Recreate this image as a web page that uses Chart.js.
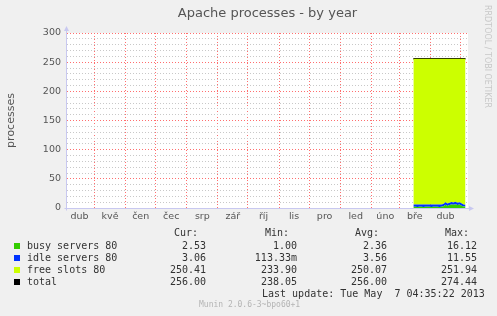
<!DOCTYPE html>
<html>
<head>
<meta charset="utf-8">
<script src="https://cdn.jsdelivr.net/npm/chart.js@4/dist/chart.umd.min.js"></script>
<style>
    body { margin: 0; background: #F0F0F0; }
    #wrap { position: relative; width: 497px; height: 316px; overflow: hidden; }
    #chart { position: absolute; left: 0; top: 0; }
    .title { position: absolute; left: 0; width: 535px; top: 5px; text-align: center; font: 13px "DejaVu Sans"; color: #555; }
    .watermark { position: absolute; left: 483px; top: 5px; writing-mode: vertical-rl; font: 8px "DejaVu Sans"; color: #C8C8C8; white-space: pre; }
    .legend { position: absolute; font: 10px "DejaVu Sans Mono"; color: #333; white-space: pre; line-height: 12px; }
    .num { text-align: right; width: 80px; }
    .swatch { position: absolute; width: 6px; height: 6px; }
    .footer { position: absolute; left: 199px; top: 300px; font: 8px "DejaVu Sans Mono"; color: #B4B4B4; white-space: pre; }
</style>
</head>
<body>
<div id="wrap">
    <canvas id="chart" width="497" height="316"></canvas>
    <div class="title">Apache processes - by year</div>
    <div class="watermark">RRDTOOL / TOBI OETIKER</div>
    <div id="legend"></div>
    <div class="footer">Munin 2.0.6-3~bpo60+1</div>
</div>
<script>
// days counted from 1 Apr 2012
const monthStarts = [30, 61, 91, 122, 153, 183, 214, 244, 275, 306, 334, 365, 395];
const monthMids = [15, 45.5, 76, 106.5, 137.5, 168, 198.5, 229, 259.5, 290.5, 320, 349.5, 380];
const monthLabels = ['dub', 'kvě', 'čen', 'čec', 'srp', 'zář', 'říj', 'lis', 'pro', 'led', 'úno', 'bře', 'dub'];
const yTickLabels = [0, 50, 100, 150, 200, 250, 300];
const yMinorStep = 10;

const days = [348, 350, 352, 354, 356, 358, 360, 362, 364, 366, 368, 370, 372, 374,
    376, 378, 380, 382, 384, 386, 388, 390, 392, 394, 396, 398, 400];
const busyServers = [2.0, 2.2, 1.9, 2.1, 2.0, 1.8, 2.1, 2.2, 2.0, 1.9, 2.1, 2.0, 2.2, 1.9,
    2.0, 3.0, 5.5, 3.5, 5.0, 6.0, 5.5, 6.5, 5.0, 6.0, 4.0, 2.5, 2.5];
const idleServers = [4.0, 3.8, 4.1, 3.9, 4.0, 4.2, 3.9, 3.8, 4.0, 4.1, 3.9, 4.0, 3.8, 4.1,
    4.0, 4.0, 4.5, 4.2, 4.0, 4.3, 4.1, 4.4, 4.2, 4.0, 4.2, 3.5, 3.1];
const freeSlots = [250.0, 250.0, 250.0, 250.0, 250.0, 250.0, 250.0, 250.0, 250.0, 250.0, 250.0, 250.0, 250.0, 250.0,
    250.0, 249.0, 246.0, 248.3, 247.0, 245.7, 246.4, 245.1, 246.8, 246.0, 247.8, 250.0, 250.4];
const totalProcs = [256, 256, 256, 256, 256, 256, 256, 256, 256, 256, 256, 256, 256, 256,
    256, 256, 256, 256, 256, 256, 256, 256, 256, 256, 256, 256, 256];

const seriesNames = ['busy servers 80', 'idle servers 80', 'free slots 80', 'total'];
const seriesColors = ['#33CC00', '#0033FF', '#CCFF00', '#000000'];
const curValues = ['2.53', '3.06', '250.41', '256.00'];
const minValues = ['1.00', '113.33m', '233.90', '238.05'];
const avgValues = ['2.36', '3.56', '250.07', '256.00'];
const maxValues = ['16.12', '11.55', '251.94', '274.44'];

const majorGrid = 'rgb(255,110,110)';
const minorGrid = 'rgb(200,200,200)';

function points(values) {
    return days.map((d, i) => ({ x: d, y: values[i] }));
}

// white canvas behind the plot, lavender axes with arrows on top
const plotDecor = {
    id: 'plotDecor',
    beforeDraw(chart) {
        const { ctx, chartArea: a } = chart;
        ctx.save();
        ctx.fillStyle = '#FFFFFF';
        ctx.fillRect(a.left, a.top, a.right - a.left, a.bottom - a.top);
        ctx.restore();
    },
    afterDraw(chart) {
        const { ctx, chartArea: a } = chart;
        const x0 = Math.round(a.left) - 0.5;
        const y0 = Math.round(a.bottom) + 0.5;
        ctx.save();
        ctx.strokeStyle = '#C8C8F0';
        ctx.fillStyle = '#C8C8F0';
        ctx.lineWidth = 1;
        ctx.beginPath();
        ctx.moveTo(x0, y0 + 2);
        ctx.lineTo(x0, a.top - 4);
        ctx.moveTo(x0 - 2, y0);
        ctx.lineTo(a.right + 3, y0);
        ctx.stroke();
        ctx.beginPath();
        ctx.moveTo(x0 - 2.5, a.top - 2);
        ctx.lineTo(x0 + 2.5, a.top - 2);
        ctx.lineTo(x0, a.top - 7);
        ctx.closePath();
        ctx.fill();
        ctx.beginPath();
        ctx.moveTo(a.right + 1, y0 - 2.5);
        ctx.lineTo(a.right + 1, y0 + 2.5);
        ctx.lineTo(a.right + 6, y0);
        ctx.closePath();
        ctx.fill();
        ctx.restore();
    }
};

function buildChart() {
    const ctx = document.getElementById('chart').getContext('2d');

    new Chart(ctx, {
        type: 'line',
        data: {
            datasets: [{
                label: seriesNames[0],
                data: points(busyServers),
                backgroundColor: seriesColors[0],
                borderWidth: 0,
                fill: 'origin',
                stack: 'procs'
            }, {
                label: seriesNames[1],
                data: points(idleServers),
                backgroundColor: seriesColors[1],
                borderWidth: 0,
                fill: '-1',
                stack: 'procs'
            }, {
                label: seriesNames[2],
                data: points(freeSlots),
                backgroundColor: seriesColors[2],
                borderWidth: 0,
                fill: '-1',
                stack: 'procs'
            }, {
                label: seriesNames[3],
                data: points(totalProcs),
                borderColor: seriesColors[3],
                borderWidth: 1.5,
                fill: false,
                stack: 'total'
            }]
        },
        options: {
            responsive: false,
            maintainAspectRatio: false,
            animation: false,
            elements: { point: { radius: 0 }, line: { tension: 0 } },
            layout: { padding: { left: 0, right: 29, top: 33, bottom: 88 } },
            scales: {
                x: {
                    type: 'linear',
                    min: 2.5,
                    max: 402.5,
                    z: 1,
                    afterBuildTicks: (scale) => {
                        scale.ticks = monthStarts.concat(monthMids).map(v => ({ value: v }));
                    },
                    afterFit: (scale) => { scale.height = 20; },
                    border: { display: false, dash: [1, 2] },
                    grid: {
                        drawTicks: false,
                        color: (c) => monthStarts.includes(c.tick && c.tick.value) ? majorGrid : 'rgba(0,0,0,0)'
                    },
                    ticks: {
                        autoSkip: false,
                        maxRotation: 0,
                        padding: 3,
                        color: '#555',
                        font: { family: 'DejaVu Sans', size: 9.5 },
                        callback: (value) => {
                            const i = monthMids.indexOf(value);
                            return i >= 0 ? monthLabels[i] : '';
                        }
                    }
                },
                y: {
                    stacked: true,
                    min: 0,
                    max: 300,
                    z: 1,
                    afterBuildTicks: (scale) => {
                        const ticks = [];
                        for (let v = 0; v <= 300; v += yMinorStep) ticks.push({ value: v });
                        scale.ticks = ticks;
                    },
                    afterFit: (scale) => { scale.width = 67; },
                    border: { display: false, dash: [1, 2] },
                    grid: {
                        drawTicks: false,
                        color: (c) => yTickLabels.includes(c.tick && c.tick.value) ? majorGrid : minorGrid
                    },
                    ticks: {
                        autoSkip: false,
                        padding: 6,
                        color: '#555',
                        font: { family: 'DejaVu Sans', size: 9.5 },
                        callback: (value) => yTickLabels.includes(value) ? String(value) : ''
                    },
                    title: {
                        display: true,
                        text: 'processes',
                        color: '#555',
                        padding: { top: 5, bottom: 0 },
                        font: { family: 'DejaVu Sans', size: 11 }
                    }
                }
            },
            plugins: {
                legend: { display: false },
                title: { display: false },
                tooltip: { enabled: false }
            }
        },
        plugins: [plotDecor]
    });
}

function buildLegend() {
    const box = document.getElementById('legend');
    const colRight = [206, 297, 387, 477];
    const headers = ['Cur:', 'Min:', 'Avg:', 'Max:'];
    const headRight = [198, 289, 379, 469];
    let html = '';
    headers.forEach((h, i) => {
        html += `<div class="legend num" style="top:227px;left:${headRight[i] - 80}px">${h}</div>`;
    });
    const rowTop = [240, 252, 264, 275.5];
    seriesNames.forEach((name, r) => {
        const top = rowTop[r];
        html += `<div class="swatch" style="left:14px;top:${top + 3}px;background:${seriesColors[r]}"></div>`;
        html += `<div class="legend" style="left:27px;top:${top}px">${name}</div>`;
        [curValues, minValues, avgValues, maxValues].forEach((col, c) => {
            html += `<div class="legend num" style="top:${top}px;left:${colRight[c] - 80}px">${col[r]}</div>`;
        });
    });
    html += `<div class="legend" style="left:262px;top:288px">Last update: Tue May  7 04:35:22 2013</div>`;
    box.innerHTML = html;
}

buildChart();
buildLegend();
</script>
</body>
</html>
